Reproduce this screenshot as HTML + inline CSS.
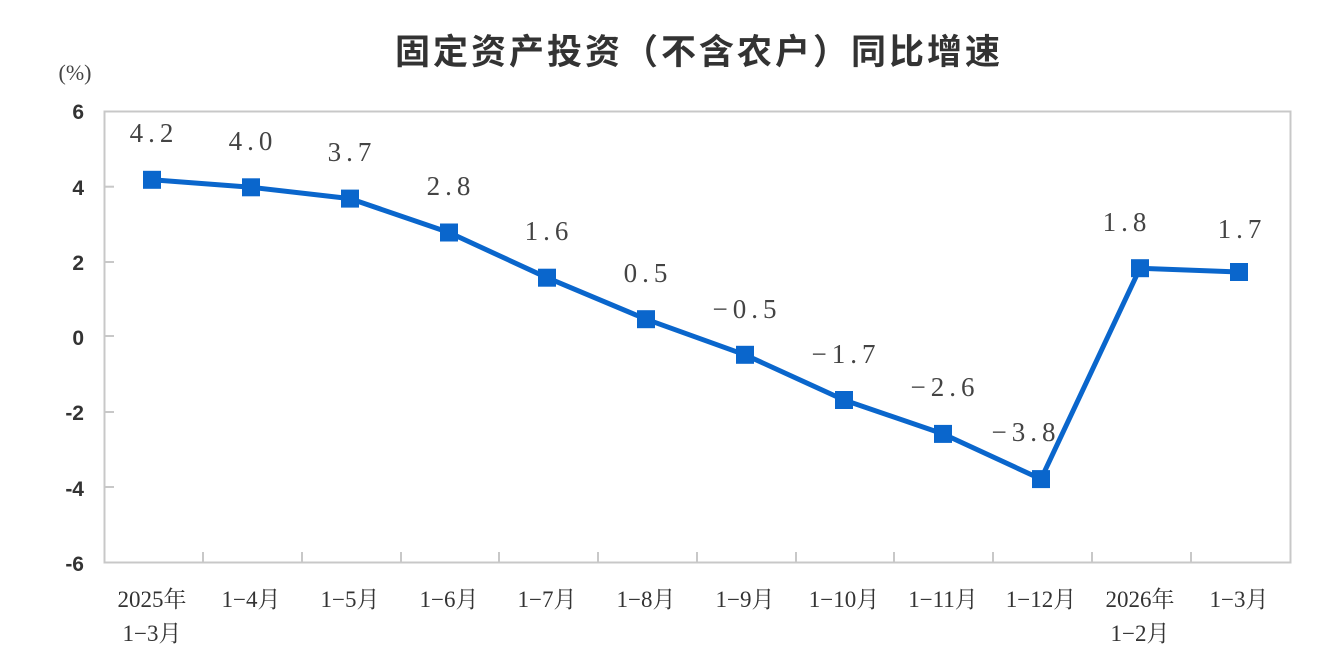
<!DOCTYPE html>
<html><head><meta charset="utf-8"><style>
html,body{margin:0;padding:0;background:#fff;}
svg{display:block;}
</style></head><body>
<svg width="1331" height="668" viewBox="0 0 1331 668" xmlns="http://www.w3.org/2000/svg">
<text x="699" y="64" text-anchor="middle" font-family="'Noto Sans CJK SC',sans-serif" font-size="35" font-weight="bold" fill="#333" letter-spacing="3">固定资产投资（不含农户）同比增速</text>
<text x="75" y="80" text-anchor="middle" font-family="'Liberation Serif','Noto Serif CJK SC',serif" font-size="22" fill="#444">(%)</text>
<rect x="104.5" y="111.5" width="1186" height="451" fill="none" stroke="#c8c8c8" stroke-width="2"/>
<g stroke="#c8c8c8" stroke-width="2">
<line x1="104" y1="186.7" x2="114" y2="186.7"/><line x1="104" y1="262" x2="114" y2="262"/><line x1="104" y1="336" x2="114" y2="336"/><line x1="104" y1="412" x2="114" y2="412"/><line x1="104" y1="487" x2="114" y2="487"/>
<line x1="203" y1="552" x2="203" y2="562"/><line x1="302" y1="552" x2="302" y2="562"/><line x1="401" y1="552" x2="401" y2="562"/><line x1="499" y1="552" x2="499" y2="562"/><line x1="598" y1="552" x2="598" y2="562"/><line x1="697" y1="552" x2="697" y2="562"/><line x1="796" y1="552" x2="796" y2="562"/><line x1="894" y1="552" x2="894" y2="562"/><line x1="993" y1="552" x2="993" y2="562"/><line x1="1092" y1="552" x2="1092" y2="562"/><line x1="1191" y1="552" x2="1191" y2="562"/>
</g>
<g font-family="'Liberation Sans',sans-serif" font-size="21" font-weight="bold" fill="#333" text-anchor="end">
<text x="84" y="119">6</text><text x="84" y="195">4</text><text x="84" y="270">2</text><text x="84" y="345">0</text><text x="84" y="420">-2</text><text x="84" y="496">-4</text><text x="84" y="571">-6</text>
</g>
<polyline fill="none" stroke="#0a66cc" stroke-width="5" stroke-linejoin="round" points="152,179.8 251,187.3 350,198.6 449,232.5 547,277.7 646,319.2 745,354.8 844,400 943,433.9 1041,479.1 1140,268.2 1239,272"/>
<g fill="#0a66cc">
<rect x="143" y="170.8" width="18" height="18"/><rect x="242" y="178.3" width="18" height="18"/><rect x="341" y="189.6" width="18" height="18"/><rect x="440" y="223.5" width="18" height="18"/><rect x="538" y="268.7" width="18" height="18"/><rect x="637" y="310.2" width="18" height="18"/><rect x="736" y="345.8" width="18" height="18"/><rect x="835" y="391" width="18" height="18"/><rect x="934" y="424.9" width="18" height="18"/><rect x="1032" y="470.1" width="18" height="18"/><rect x="1131" y="259.2" width="18" height="18"/><rect x="1230" y="263" width="18" height="18"/>
</g>
<g font-family="'Liberation Serif',serif" font-size="27" fill="#444" text-anchor="middle" letter-spacing="5">
<text x="154" y="142">4.2</text><text x="253" y="150">4.0</text><text x="352" y="161">3.7</text><text x="451" y="195">2.8</text><text x="549" y="240">1.6</text><text x="648" y="282">0.5</text><text x="747" y="318">−0.5</text><text x="846" y="363">−1.7</text><text x="945" y="396">−2.6</text><text x="1026" y="441">−3.8</text><text x="1127" y="231">1.8</text><text x="1242" y="238">1.7</text>
</g>
<g font-family="'Liberation Serif','Noto Serif CJK SC',serif" font-size="23" fill="#333" text-anchor="middle">
<text x="152" y="607">2025年</text><text x="152" y="641">1−3月</text>
<text x="251" y="607">1−4月</text><text x="350" y="607">1−5月</text><text x="449" y="607">1−6月</text><text x="547" y="607">1−7月</text><text x="646" y="607">1−8月</text><text x="745" y="607">1−9月</text><text x="844" y="607">1−10月</text><text x="943" y="607">1−11月</text><text x="1041" y="607">1−12月</text>
<text x="1140" y="607">2026年</text><text x="1140" y="641">1−2月</text><text x="1239" y="607">1−3月</text>
</g>
</svg>
</body></html>
